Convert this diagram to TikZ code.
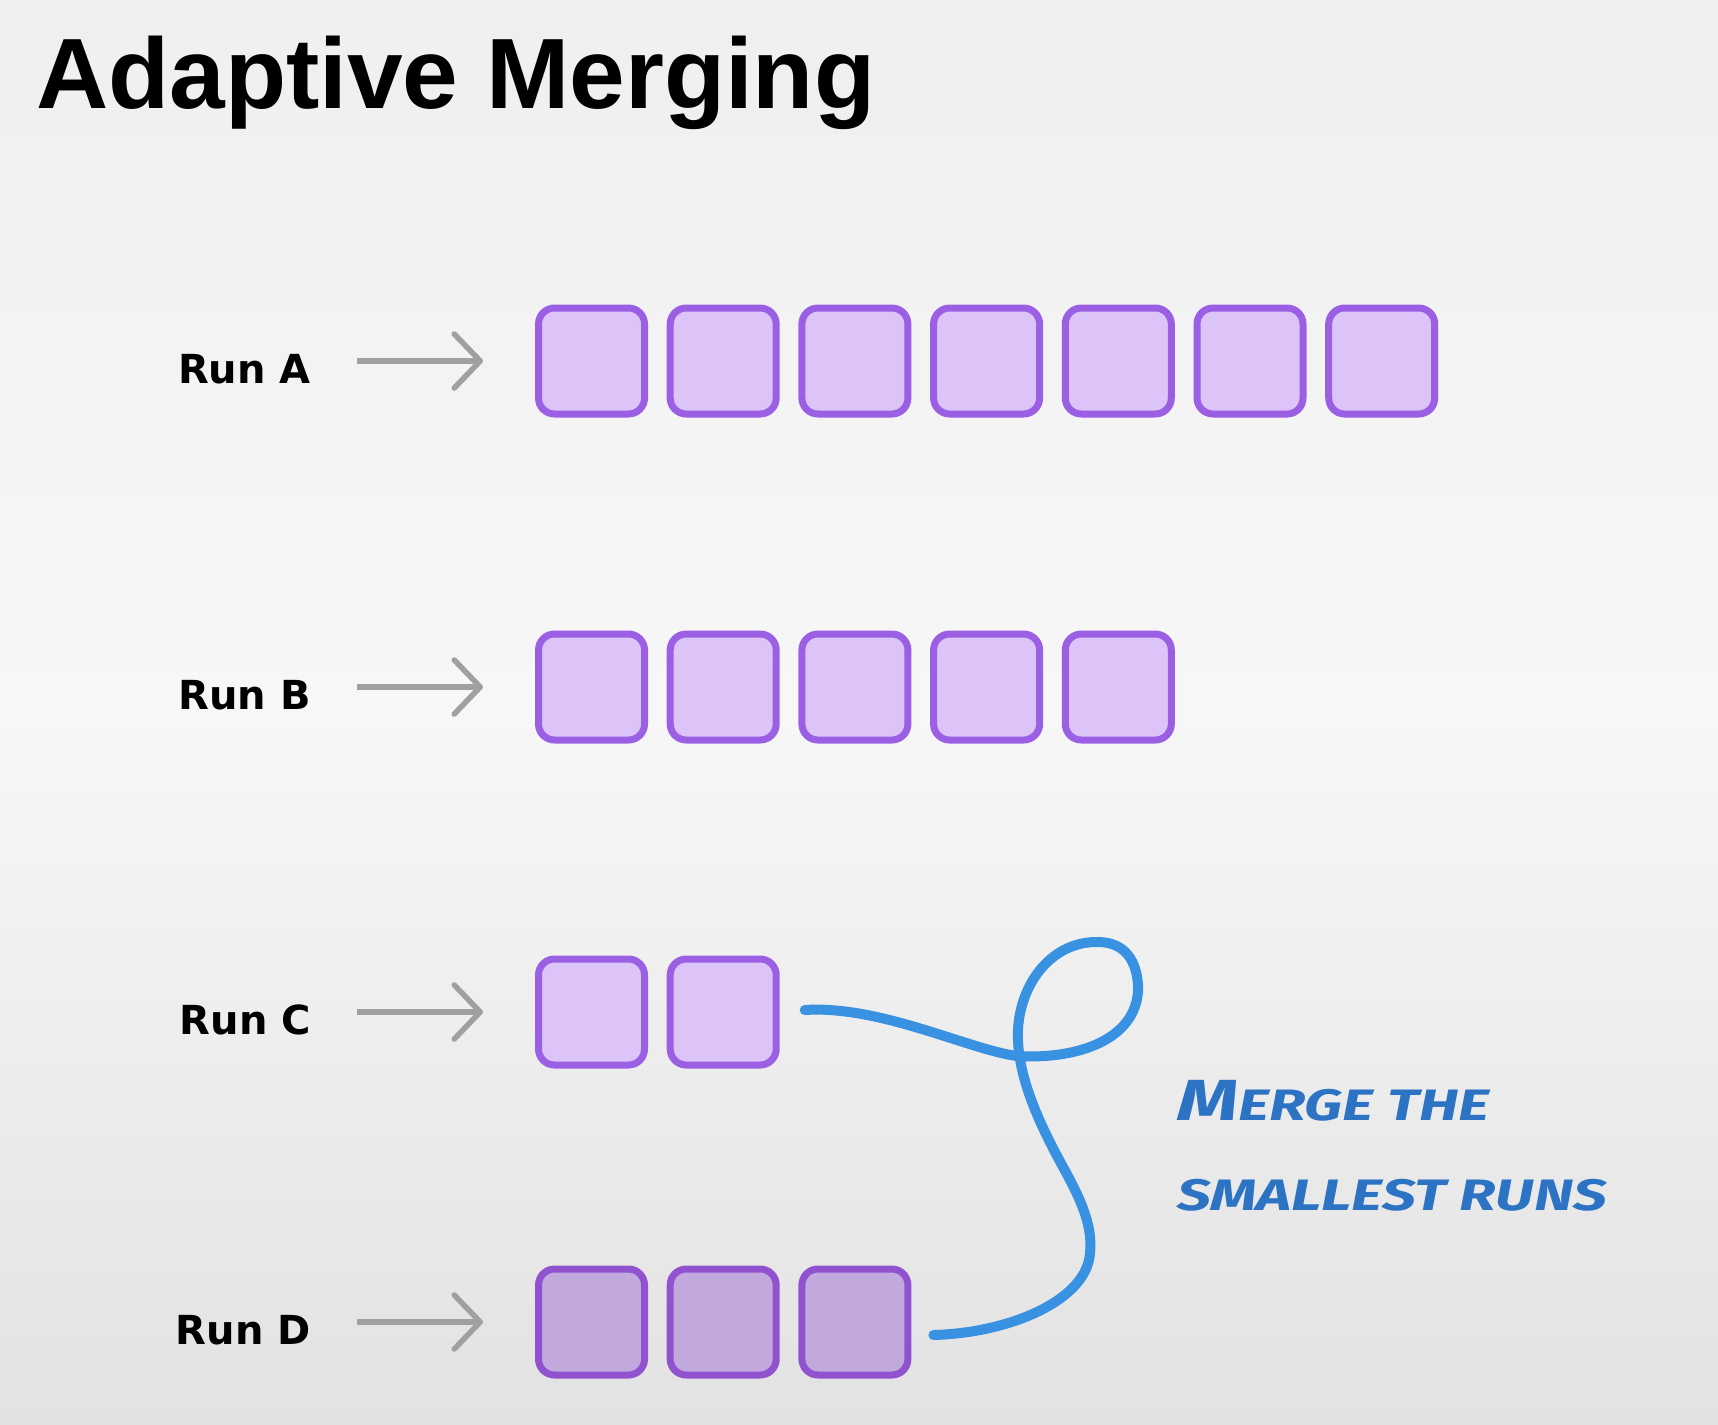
\documentclass[tikz,border=0pt]{standalone}
\usepackage{fontspec}
\setmainfont{Liberation Sans}
\newfontfamily\labelfont{DejaVu Sans}
\newfontfamily\handfont[FakeStretch=1.36]{Fira Sans}
\usetikzlibrary{arrows.meta,calc}
\definecolor{bgtop}{RGB}{239,239,239}
\definecolor{bgmid}{RGB}{247,247,247}
\definecolor{bgbot}{RGB}{226,226,226}
\definecolor{cellfill}{RGB}{220,196,248}
\definecolor{cellborder}{RGB}{155,95,228}
\definecolor{celldark}{RGB}{193,169,221}
\definecolor{cellborderdark}{RGB}{145,82,208}
\definecolor{arrowgray}{RGB}{160,160,160}
\definecolor{curveblue}{RGB}{56,145,225}
\definecolor{noteblue}{RGB}{45,115,196}
\tikzset{
  cell/.style={draw=cellborder, fill=cellfill, line width=7pt, rounded corners=16pt,
    minimum width=106pt, minimum height=106pt, inner sep=0pt},
  darkcell/.style={cell, draw=cellborderdark, fill=celldark},
  runlabel/.style={font=\labelfont\bfseries\fontsize{40}{44}\selectfont, inner sep=0pt, anchor=base east},
  runarrow/.style={draw=arrowgray, line width=5.5pt, shorten <=46pt, shorten >=52pt,
    -{Straight Barb[length=26pt, width=54pt, line cap=round, line join=round]}},
  mergecurve/.style={draw=curveblue, line width=10pt, line cap=round, line join=round},
  handtext/.style={font=\handfont\bfseries\itshape\fontsize{44}{48}\selectfont, text=noteblue,
    inner sep=0pt, anchor=base west},
  titletext/.style={font=\bfseries\fontsize{100}{110}\selectfont, inner sep=0pt, anchor=base west}
}
\begin{document}
\begin{tikzpicture}[x=1pt,y=-1pt]
\useasboundingbox (0,0) rectangle (1718,1424);
\shade[top color=bgtop, bottom color=bgbot, middle color=bgmid] (0,0) rectangle (1718,1424);

\node[titletext] (title) at (36,108) {Adaptive Merging};

\foreach \r/\n/\y/\lab/\sty in {a/7/361/A/cell, b/5/687/B/cell, c/2/1012/C/cell, d/3/1322/D/darkcell}{
  \node[runlabel] (l\r) at (311,\y+22) {Run \lab};
  \foreach \i in {1,...,\n}{
    \node[\sty] (\r\i) at ({591.5+131.7*(\i-1)},\y) {};
  }
  \draw[runarrow] (\r1.west -| l\r.east) -- (\r1.west);
}

\coordinate (cs) at ($(c2.east)+(25,-2)$);
\coordinate (de) at ($(d3.east)+(22,13)$);
\draw[mergecurve] (cs) .. controls (880,1005) and (970,1050) .. (1017,1056)
  .. controls (1085,1060) and (1140,1035) .. (1138,985)
  .. controls (1136,955) and (1120,941) .. (1095,942)
  .. controls (1050,943) and (1020,985) .. (1018,1030)
  .. controls (1016,1075) and (1040,1125) .. (1063,1167)
  .. controls (1080,1198) and (1093,1225) .. (1090,1253)
  .. controls (1087,1300) and (1010,1333) .. (de);

\node[handtext] (note1) at (1177,1120) {{\fontsize{58}{60}\selectfont M}ERGE THE};
\node[handtext] (note2) at (1177,1210) {SMALLEST RUNS};
\end{tikzpicture}
\end{document}
